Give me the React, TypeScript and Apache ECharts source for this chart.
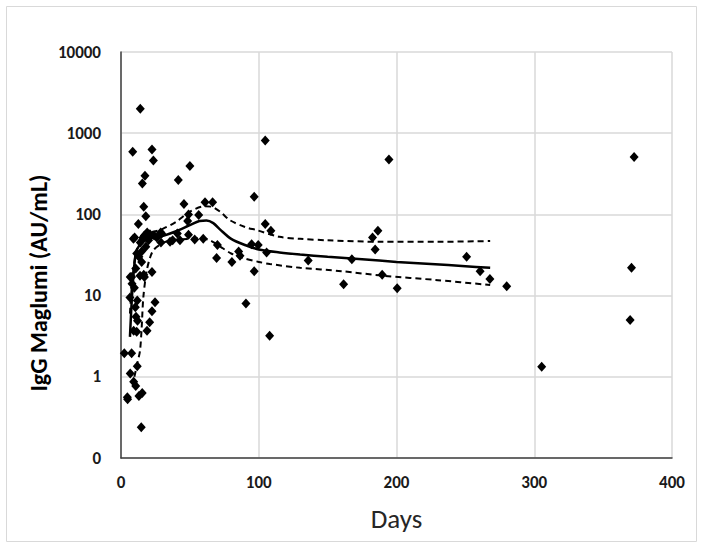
import React, { useEffect, useRef } from "react";
import * as echarts from "echarts";

// Scatter observations: days and IgG values
const pointDays = [
  14, 8.5, 22.5, 23.5, 50, 17.4, 15.5, 41.6, 104.7, 96.7, 16.5, 18, 12.6, 45.7, 61, 66.5, 56.4, 49, 48.4, 104.7,
  108.8, 94.8, 99.6, 9.9, 16, 28.8, 40.9, 42.8, 49, 53.5, 37.5, 29, 70, 85.4, 105.7,
  14, 17, 19, 20, 21, 24, 26, 15, 13, 18, 35.6, 29.5, 59.7, 9, 11.4, 15, 17, 7.7,
  69.4, 80.5, 86.4, 96.7, 90.7, 107.9, 24.7, 22.5, 20.8, 18.9, 22.5, 16.5, 13.8, 6.7, 10.7, 8, 9.7, 6.5, 11.8,
  10.9, 12, 9.2, 11.4, 10.4, 2.4, 7.7, 11.8, 6.7, 9.2, 10.7, 15.4, 13, 4.8, 4.6, 14.7,
  194.5, 186.5, 182.6, 184.5, 135.9, 167.6, 250.9, 260.7, 267.8, 189.6, 161.6, 200.5, 372.5, 370.6, 369.6, 305.4, 280,
];
const pointValues = [
  2000, 590, 630, 460, 395, 300, 240, 265, 815, 165, 124, 95, 76, 134, 141, 141, 98, 100, 83, 76,
  63, 43, 42, 52, 52, 60, 58, 48, 56, 49, 48, 45, 42, 35, 34,
  45, 55, 60, 48, 57, 55, 52, 35, 30, 40, 46, 58, 50, 50, 33, 26, 17, 17,
  29, 26, 31, 20, 8.0, 3.2, 8.3, 6.4, 4.7, 3.7, 19.5, 18, 17.6, 17, 21.6, 14, 12.5, 9.5, 8.7,
  5.5, 4.9, 3.7, 3.6, 7.2, 1.95, 1.95, 1.35, 1.1, 0.87, 0.77, 0.63, 0.58, 0.53, 0.56, 0.24,
  475, 63, 52, 37, 27, 28, 30, 20, 16, 18, 13.8, 12.3, 510, 22, 5.0, 1.33, 13,
];

// Fitted curve (solid)
const fitDays = [6.5, 8, 9.5, 10.7, 12, 15, 20, 25, 30, 40, 50, 57, 62, 67, 72, 80, 90, 100, 115, 130, 150, 175, 200, 225, 250, 268];
const fitValues = [3.1, 10, 22, 33, 38, 45, 50, 52, 54, 62, 74, 83, 84, 78, 65, 50, 42, 37, 34, 32, 30, 28, 26, 24.5, 23, 22];

// Upper confidence band (dashed)
const upperDays = [6.5, 8, 10, 12.6, 15, 18.6, 25, 30, 40, 50, 61, 66, 72, 79, 90, 98.5, 115, 130, 150, 188, 230, 268];
const upperValues = [6, 14, 28, 44, 54, 59, 62, 66, 81, 108, 126, 124, 108, 85, 70, 64, 53, 50, 48, 46, 46, 47];

// Lower confidence band (dashed)
const lowerDays = [9.7, 12, 13.8, 15, 16.2, 18.6, 21, 23.4, 28, 35.6, 50, 58, 64.6, 69.4, 74.2, 80, 88.8, 100, 108, 130, 160, 189.6, 230, 268];
const lowerValues = [1.0, 1.5, 2.1, 4, 9.5, 20, 29, 36, 42, 48, 50, 51, 48, 43, 38, 33, 29, 26, 24.5, 22, 20, 17.6, 15.5, 13.5];

const xTicks = [0, 100, 200, 300, 400];
const yTicks = [0.1, 1, 10, 100, 1000, 10000];
const yTickLabels = ["0", "1", "10", "100", "1000", "10000"];

const FONT = "Carlito, Lato, 'Liberation Sans', sans-serif";

const zip = (a: number[], b: number[]) => a.map((v, i) => [v, b[i]]);

export default function App() {
  const ref = useRef<HTMLDivElement>(null);
  useEffect(() => {
    if (!ref.current) return;
    const chart = echarts.init(ref.current, null, { renderer: "svg" });
    chart.setOption({
      animation: false,
      backgroundColor: "#ffffff",
      grid: { left: 121, right: 34, top: 52, bottom: 94, containLabel: false },
      graphic: [
        {
          type: "rect",
          shape: { x: 6.5, y: 6.5, width: 690, height: 535 },
          style: { fill: "none", stroke: "#d9d9d9", lineWidth: 1 },
          silent: true,
        },
        {
          type: "text",
          x: 38,
          y: 283,
          rotation: Math.PI / 2,
          style: {
            text: "IgG Maglumi (AU/mL)",
            font: `bold 24px ${FONT}`,
            fill: "#000000",
            align: "center",
            verticalAlign: "middle",
          },
        },
      ],
      xAxis: {
        type: "value",
        min: xTicks[0],
        max: xTicks[xTicks.length - 1],
        interval: 100,
        name: "Days",
        nameLocation: "middle",
        nameGap: 47,
        nameTextStyle: { fontFamily: FONT, fontSize: 27, color: "#262626" },
        axisLine: { show: true, lineStyle: { color: "#404040", width: 1.5 } },
        axisTick: { show: false },
        axisLabel: { fontFamily: FONT, fontSize: 17, fontWeight: "bold", color: "#1a1a1a", margin: 16 },
        splitLine: { show: true, lineStyle: { color: "#d9d9d9", width: 1.5 } },
      },
      yAxis: {
        type: "log",
        logBase: 10,
        min: yTicks[0],
        max: yTicks[yTicks.length - 1],
        axisLine: { show: true, lineStyle: { color: "#404040", width: 1.5 } },
        axisTick: { show: false },
        axisLabel: {
          fontFamily: FONT,
          fontSize: 17,
          fontWeight: "bold",
          color: "#1a1a1a",
          margin: 20,
          formatter: (v: number) => {
            const i = yTicks.findIndex((t) => Math.abs(t - v) / t < 1e-6);
            return i >= 0 ? yTickLabels[i] : "";
          },
        },
        splitLine: { show: true, lineStyle: { color: "#d9d9d9", width: 1.5 } },
      },
      series: [
        {
          type: "line",
          data: zip(upperDays, upperValues),
          smooth: 0.3,
          showSymbol: false,
          lineStyle: { color: "#000000", width: 2, type: [6, 4] },
          z: 2,
        },
        {
          type: "line",
          data: zip(lowerDays, lowerValues),
          smooth: 0.3,
          showSymbol: false,
          lineStyle: { color: "#000000", width: 2, type: [6, 4] },
          z: 2,
        },
        {
          type: "line",
          data: zip(fitDays, fitValues),
          smooth: 0.3,
          showSymbol: false,
          lineStyle: { color: "#000000", width: 2.5 },
          z: 3,
        },
        {
          type: "scatter",
          data: zip(pointDays, pointValues),
          symbol: "diamond",
          symbolSize: [9, 10],
          itemStyle: { color: "#000000", opacity: 1 },
          z: 4,
        },
      ],
    });
    return () => chart.dispose();
  }, []);
  return (
    <div
      ref={ref}
      style={{ position: "fixed", left: 0, top: 0, width: 706, height: 552, background: "#ffffff" }}
    />
  );
}
